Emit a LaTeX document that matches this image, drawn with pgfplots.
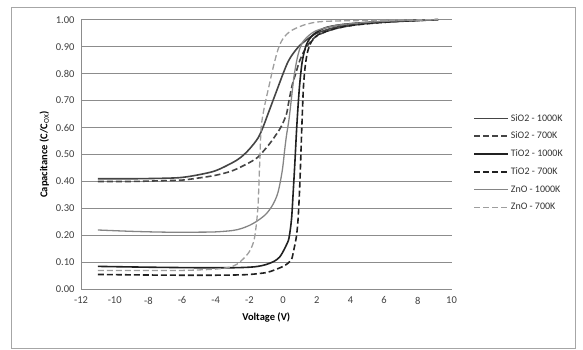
\documentclass[border=0pt]{standalone}
\usepackage{fontspec}
\setmainfont{Carlito}
\usepackage{pgfplots}
\pgfplotsset{compat=1.18}
\definecolor{sio}{gray}{0.27}
\definecolor{tio}{gray}{0.13}
\definecolor{zno}{gray}{0.52}
\definecolor{znob}{gray}{0.62}
\definecolor{gridc}{gray}{0.55}
\begin{document}
\begin{tikzpicture}[x=1pt,y=1pt]
\useasboundingbox (0,0) rectangle (583,349);
\draw[gray!70,line width=0.6pt] (11,1) rectangle (575,342);
\begin{axis}[
  at={(81pt,59.7pt)}, anchor=south west,
  scale only axis, width=370.5pt, height=269.6pt,
  xmin=-12, xmax=10, ymin=0, ymax=1,
  xtick={-12,-10,...,10},
  ytick={0,0.1,...,1.01},
  yticklabel style={xshift=-3pt, /pgf/number format/.cd,fixed,fixed zerofill,precision=2},
  /pgf/number format/assume math mode=true,
  tick label style={font=\fontsize{10.5}{12}\selectfont, color=black!75},
  xticklabel style={yshift=-4pt},
  tick style={draw=none},
  axis line style={draw=none},
  ymajorgrids, grid style={gridc, line width=0.6pt},
  xlabel={\textbf{Voltage (V)}},
  ylabel={\textbf{Capacitance (C/C$_{\mathrm{OX}}$)}},
  label style={font=\fontsize{10.5}{12}\selectfont},
  xlabel style={yshift=-2pt},
  legend style={at={(1.05,0.665)}, anchor=north west, draw=none, fill=none,
    font=\fontsize{10}{12}\selectfont, row sep=5.5pt, text=black!80,
    /tikz/every even column/.append style={column sep=1pt}},
  legend cell align=left,
  legend image code/.code={\draw[#1] (0pt,0pt) -- (34pt,0pt);},
  clip=false,
]
\draw[gridc, line width=0.6pt] (axis cs:-12,0) -- (axis cs:-12,1);
\draw[gridc, line width=0.6pt] (axis cs:-12,0) -- (axis cs:10,0);
% SiO2 1000K
\addplot[sio, line width=1.6pt, smooth] coordinates {
(-11,0.41) (-9,0.41) (-7,0.412) (-6,0.415) (-5,0.425) (-4,0.44) (-3,0.47) (-2.5,0.49) (-2,0.52) (-1.5,0.56) (-1.2,0.60) (-0.9,0.65) (-0.6,0.70) (-0.3,0.75) (0,0.80) (0.3,0.845) (0.6,0.875) (1,0.905) (1.5,0.93) (2,0.95) (3,0.97) (4,0.98) (5,0.987) (7,0.995) (9.2,1.0)};
\addlegendentry{SiO2 - 1000K}
% SiO2 700K
\addplot[sio, line width=1.6pt, dash pattern=on 6pt off 3pt, smooth] coordinates {
(-11,0.40) (-9,0.40) (-7,0.403) (-6,0.405) (-5,0.413) (-4,0.423) (-3,0.44) (-2,0.47) (-1.5,0.49) (-1.2,0.51) (-0.8,0.54) (-0.4,0.575) (-0.1,0.605) (0.2,0.65) (0.35,0.70) (0.55,0.76) (0.75,0.80) (1.0,0.85) (1.4,0.90) (2,0.94) (3,0.965) (4,0.978) (5,0.986) (7,0.994) (9.2,1.0)};
\addlegendentry{SiO2 - 700K}
% TiO2 1000K
\addplot[tio, line width=1.6pt, smooth] coordinates {
(-11,0.085) (-8,0.082) (-5,0.08) (-3,0.08) (-2,0.082) (-1.5,0.085) (-1,0.092) (-0.5,0.105) (-0.2,0.12) (0,0.14) (0.2,0.165) (0.35,0.19) (0.5,0.26) (0.6,0.36) (0.7,0.47) (0.8,0.59) (0.9,0.69) (1.0,0.77) (1.15,0.85) (1.4,0.91) (1.8,0.945) (2.5,0.97) (3.5,0.982) (5,0.99) (7,0.996) (9.2,1.0)};
\addlegendentry{TiO2 - 1000K}
% TiO2 700K
\addplot[tio, line width=1.6pt, dash pattern=on 6pt off 3pt, smooth] coordinates {
(-11,0.055) (-8,0.053) (-5,0.052) (-3,0.053) (-2,0.055) (-1,0.062) (-0.5,0.072) (0,0.085) (0.3,0.097) (0.5,0.11) (0.65,0.15) (0.8,0.2) (0.9,0.27) (1.0,0.4) (1.1,0.58) (1.2,0.74) (1.3,0.82) (1.45,0.88) (1.7,0.92) (2.1,0.945) (3,0.965) (4,0.978) (5.5,0.988) (7,0.994) (9.2,1.0)};
\addlegendentry{TiO2 - 700K}
% ZnO 1000K
\addplot[zno, line width=1.3pt, smooth] coordinates {
(-11,0.22) (-9,0.215) (-7,0.212) (-5,0.212) (-4,0.213) (-3,0.218) (-2.5,0.225) (-2,0.237) (-1.5,0.255) (-1,0.28) (-0.6,0.315) (-0.3,0.36) (-0.05,0.44) (0.1,0.52) (0.2,0.57) (0.35,0.63) (0.5,0.71) (0.65,0.79) (0.85,0.86) (1.1,0.91) (1.5,0.94) (2,0.96) (3,0.977) (4,0.985) (6,0.994) (9.2,1.0)};
\addlegendentry{ZnO - 1000K}
% ZnO 700K
\addplot[znob, line width=1.3pt, dash pattern=on 6pt off 3pt, smooth] coordinates {
(-11,0.07) (-8,0.07) (-6,0.07) (-4,0.075) (-3,0.085) (-2.5,0.105) (-2,0.14) (-1.7,0.19) (-1.5,0.3) (-1.4,0.45) (-1.3,0.6) (-1.1,0.68) (-0.85,0.75) (-0.6,0.82) (-0.3,0.89) (0,0.93) (0.5,0.96) (1.5,0.985) (3,0.995) (9.2,1.0)};
\addlegendentry{ZnO - 700K}
\end{axis}
\end{tikzpicture}
\end{document}
